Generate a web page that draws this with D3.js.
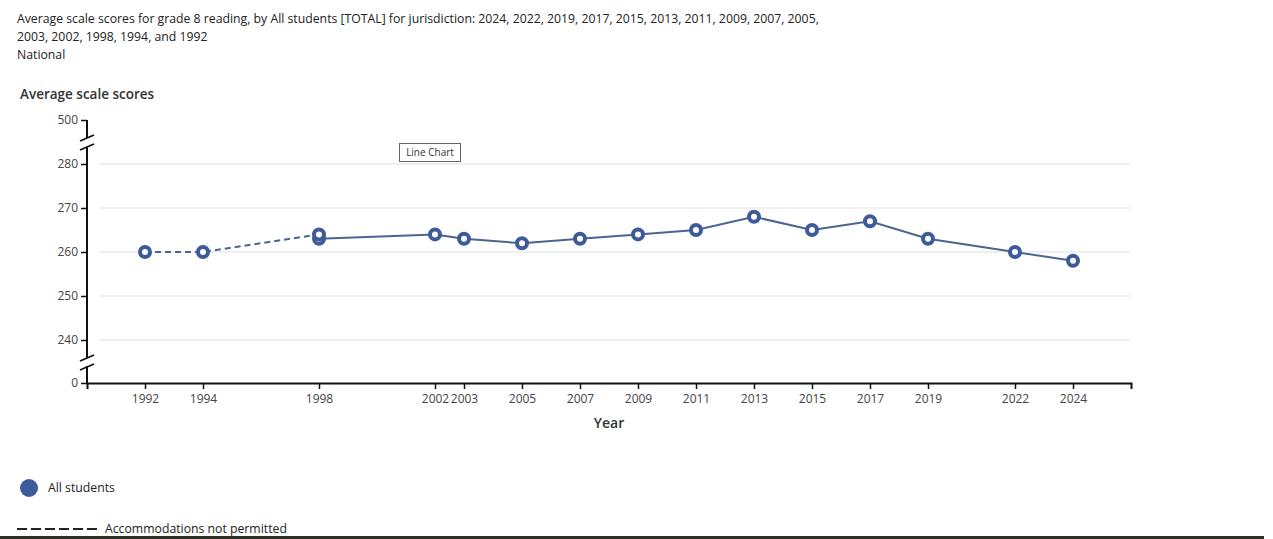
<!DOCTYPE html>
<html>
<head>
<meta charset="utf-8">
<script src="https://cdn.jsdelivr.net/npm/d3@7"></script>
<style>
  body { margin: 0; background: #fff; }
  svg { display: block; font-family: "Open Sans", sans-serif; }
</style>
</head>
<body>
<svg id="chart"></svg>
<script>
const width = 1273,
    height = 539;

// data
const tickYears = [1992, 1994, 1998, 2002, 2003, 2005, 2007, 2009, 2011, 2013, 2015, 2017, 2019, 2022, 2024];
const yTicks = [0, 240, 250, 260, 270, 280, 500];
const gridValues = [240, 250, 260, 270, 280];
const notPermittedYears = [1992, 1994, 1998];
const notPermittedScores = [260, 260, 264];
const permittedYears = [1998, 2002, 2003, 2005, 2007, 2009, 2011, 2013, 2015, 2017, 2019, 2022, 2024];
const permittedScores = [263, 264, 263, 262, 263, 264, 265, 268, 265, 267, 263, 260, 258];

const titleLines = [
    "Average scale scores for grade 8 reading, by All students [TOTAL] for jurisdiction: 2024, 2022, 2019, 2017, 2015, 2013, 2011, 2009, 2007, 2005,",
    "2003, 2002, 1998, 1994, and 1992",
    "National",
];

const blue = "#3d5b98";
const lineBlue = "#4a6594";

const notPermitted = notPermittedYears.map((y, i) => ({ year: y, score: notPermittedScores[i] }));
const permitted = permittedYears.map((y, i) => ({ year: y, score: permittedScores[i] }));

const svg = d3.select("#chart").attr("width", width).attr("height", height);

// title block
svg.append("g")
    .selectAll("text")
    .data(titleLines)
    .enter()
    .append("text")
    .attr("x", 17)
    .attr("y", (d, i) => 23 + i * 18)
    .attr("font-size", 12.25)
    .attr("fill", "#222")
    .text((d) => d);

svg.append("text")
    .attr("x", 20)
    .attr("y", 99)
    .attr("font-size", 13.5)
    .attr("font-weight", 600)
    .attr("fill", "#333")
    .text("Average scale scores");

// scales (broken y axis)
const xScale = d3.scaleLinear().domain([1990, 2026]).range([87, 1131]);
const yScale = d3.scaleLinear().domain([0, 235, 285, 500]).range([383, 362, 142, 120]);

// gridlines
svg.append("g")
    .selectAll("line")
    .data(gridValues)
    .enter()
    .append("line")
    .attr("x1", 100)
    .attr("x2", 1130)
    .attr("y1", (d) => yScale(d))
    .attr("y2", (d) => yScale(d))
    .attr("stroke", "#ebebeb")
    .attr("stroke-width", 1.5);

// x axis
const xAxis = d3.axisBottom(xScale).tickValues(tickYears).tickFormat(d3.format("d")).tickSize(6).tickSizeOuter(6);
const gx = svg.append("g").attr("transform", `translate(0, ${yScale(0)})`).call(xAxis);
gx.select(".domain").attr("stroke", "#111").attr("stroke-width", 2);
gx.selectAll(".tick line").attr("stroke", "#111").attr("stroke-width", 1.5);
gx.selectAll(".tick text")
    .attr("font-family", "Open Sans")
    .attr("font-size", 12)
    .attr("fill", "#444")
    .attr("dy", "0.95em");

// y axis
const yAxis = d3.axisLeft(yScale).tickValues(yTicks).tickSize(6);
const gy = svg.append("g").attr("transform", "translate(87, 0)").call(yAxis);
gy.select(".domain").remove();
gy.selectAll(".tick line").attr("stroke", "#111").attr("stroke-width", 1.5);
gy.selectAll(".tick text")
    .attr("font-family", "Open Sans")
    .attr("font-size", 12)
    .attr("fill", "#444");

// axis line with the two breaks
const breaks = [yScale(285), yScale(235)];
const segs = [
    [yScale(500), breaks[0] - 4],
    [breaks[0] + 5, breaks[1] - 4],
    [breaks[1] + 4, yScale(0)],
];
gy.selectAll(".seg")
    .data(segs)
    .enter()
    .append("line")
    .attr("x1", 0)
    .attr("x2", 0)
    .attr("y1", (d) => d[0])
    .attr("y2", (d) => d[1])
    .attr("stroke", "#111")
    .attr("stroke-width", 2);
const slashes = [];
breaks.forEach((b) => {
    slashes.push(b - 4);
    slashes.push(b + 5);
});
gy.selectAll(".slash")
    .data(slashes)
    .enter()
    .append("line")
    .attr("x1", -7)
    .attr("x2", 7)
    .attr("y1", (d) => d + 3)
    .attr("y2", (d) => d - 3)
    .attr("stroke", "#111")
    .attr("stroke-width", 1.8);

svg.append("text")
    .attr("x", xScale(2008))
    .attr("y", 428)
    .attr("text-anchor", "middle")
    .attr("font-size", 14)
    .attr("font-weight", 600)
    .attr("fill", "#333")
    .text("Year");

// "Line Chart" label box
svg.append("rect")
    .attr("x", 399.5)
    .attr("y", 143.5)
    .attr("width", 61)
    .attr("height", 18)
    .attr("fill", "#fff")
    .attr("stroke", "#666");
svg.append("text")
    .attr("x", 430)
    .attr("y", 156)
    .attr("text-anchor", "middle")
    .attr("font-size", 10)
    .attr("fill", "#333")
    .text("Line Chart");

// lines
const line = d3.line().x((d) => xScale(d.year)).y((d) => yScale(d.score));

svg.append("path")
    .datum(notPermitted)
    .attr("d", line)
    .attr("fill", "none")
    .attr("stroke", lineBlue)
    .attr("stroke-width", 2)
    .attr("stroke-dasharray", "6,4");

svg.append("path")
    .datum(permitted)
    .attr("d", line)
    .attr("fill", "none")
    .attr("stroke", lineBlue)
    .attr("stroke-width", 2);

// markers
const drawDots = (data) => {
    svg.append("g")
        .selectAll("circle")
        .data(data)
        .enter()
        .append("circle")
        .attr("cx", (d) => xScale(d.year))
        .attr("cy", (d) => yScale(d.score))
        .attr("r", 5)
        .attr("fill", "#fff")
        .attr("stroke", blue)
        .attr("stroke-width", 4);
};
drawDots(permitted);
drawDots(notPermitted);

// legend
svg.append("circle").attr("cx", 29).attr("cy", 488).attr("r", 9).attr("fill", blue);
svg.append("text")
    .attr("x", 48)
    .attr("y", 492)
    .attr("font-size", 12.25)
    .attr("fill", "#222")
    .text("All students");

svg.append("line")
    .attr("x1", 17)
    .attr("x2", 97)
    .attr("y1", 529)
    .attr("y2", 529)
    .attr("stroke", "#222")
    .attr("stroke-width", 2)
    .attr("stroke-dasharray", "10,4");
svg.append("text")
    .attr("x", 105)
    .attr("y", 533)
    .attr("font-size", 12.25)
    .attr("fill", "#222")
    .text("Accommodations not permitted");

// dark strip along the bottom edge of the capture
svg.append("rect").attr("x", 0).attr("y", 536).attr("width", 1264).attr("height", 3).attr("fill", "#2c3024");
</script>
</body>
</html>
